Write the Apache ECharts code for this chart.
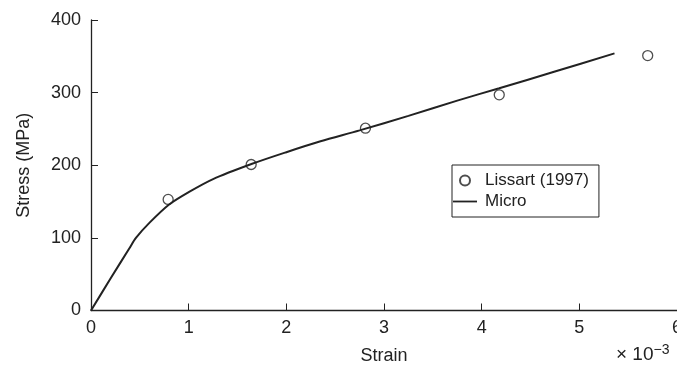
<!DOCTYPE html>
<html>
<head>
<meta charset="utf-8">
<script src="https://cdn.jsdelivr.net/npm/echarts@6/dist/echarts.min.js"></script>
<style>
  html, body { margin: 0; padding: 0; background: #fff; }
  #chart { width: 677px; height: 371px; }
</style>
</head>
<body>
<div id="chart"></div>
<script>
// Experimental points (strain ×10^-3, stress MPa)
const lissartStrain = [0.79, 1.64, 2.81, 4.18, 5.70];
const lissartStress = [153, 201, 251, 297, 351];

// Micromechanical model curve
const microStrain = [0, 0.2, 0.39, 0.46, 0.6, 0.8, 1.0, 1.25, 1.65, 2.0, 2.35, 2.75, 3.25, 3.75, 4.18, 4.75, 5.36];
const microStress = [0, 44, 85, 100, 121, 146, 163, 181, 202, 218, 233, 248, 268, 289, 306, 329, 354];

const xTicks = [0, 1, 2, 3, 4, 5, 6];
const yTicks = [0, 100, 200, 300, 400];

const FONT = '"Liberation Sans", Arial, sans-serif';
const INK = '#222';

const chart = echarts.init(document.getElementById('chart'), null, { renderer: 'canvas' });

chart.setOption({
  animation: false,
  backgroundColor: '#fff',
  grid: { left: 91, top: 20, width: 586, height: 290.5, containLabel: false, outerBoundsMode: 'none' },
  xAxis: {
    type: 'value',
    min: xTicks[0], max: xTicks[xTicks.length - 1], interval: 1,
    name: 'Strain', nameLocation: 'middle', nameGap: 37,
    nameTextStyle: { fontFamily: FONT, fontSize: 18, color: INK },
    axisLine: { show: true, lineStyle: { color: INK, width: 1.3 } },
    axisTick: { show: true, inside: true, length: 7, lineStyle: { color: INK, width: 1 } },
    axisLabel: { fontFamily: FONT, fontSize: 18, color: INK, margin: 9, showMaxLabel: true },
    splitLine: { show: false }
  },
  yAxis: {
    type: 'value',
    min: yTicks[0], max: yTicks[yTicks.length - 1], interval: 100,
    name: 'Stress (MPa)', nameLocation: 'middle', nameGap: 58, nameRotate: 90,
    nameTextStyle: { fontFamily: FONT, fontSize: 18, color: INK },
    axisLine: { show: true, lineStyle: { color: INK, width: 1.3 } },
    axisTick: { show: true, inside: true, length: 7, lineStyle: { color: INK, width: 1 } },
    axisLabel: { fontFamily: FONT, fontSize: 18, color: INK, margin: 10 },
    splitLine: { show: false }
  },
  legend: {
    orient: 'vertical',
    left: 452, top: 165,
    width: 152,
    padding: [7, 10, 7, 1],
    itemGap: 4,
    itemWidth: 24, itemHeight: 10,
    symbolKeepAspect: true,
    borderColor: INK, borderWidth: 1,
    backgroundColor: '#fff',
    textStyle: { fontFamily: FONT, fontSize: 17, color: INK, padding: [0, 0, 0, 3] },
    data: [
      { name: 'Lissart (1997)' },
      { name: 'Micro', icon: 'path://M0,0 L24,0 L24,1.8 L0,1.8 Z', itemStyle: { color: INK } }
    ]
  },
  graphic: [{
    type: 'text',
    left: 616, top: 343,
    style: {
      text: '{a|×}{b| 10}{c|−3}',
      rich: {
        a: { fontFamily: FONT, fontSize: 19, fill: INK },
        b: { fontFamily: FONT, fontSize: 19, fill: INK },
        c: { fontFamily: FONT, fontSize: 14, fill: INK, verticalAlign: 'top', padding: [0, 0, 9, 0] }
      }
    }
  }],
  series: [{
    name: 'Micro',
    type: 'line',
    data: microStrain.map((x, i) => [x, microStress[i]]),
    smooth: 0.3,
    symbol: 'none',
    lineStyle: { color: INK, width: 2 },
    itemStyle: { color: INK },
    z: 2
  }, {
    name: 'Lissart (1997)',
    type: 'scatter',
    data: lissartStrain.map((x, i) => [x, lissartStress[i]]),
    symbol: 'circle',
    symbolSize: 10,
    itemStyle: { color: 'rgba(255,255,255,0)', borderColor: INK, borderWidth: 1.3 },
    z: 3
  }]
});
</script>
</body>
</html>
